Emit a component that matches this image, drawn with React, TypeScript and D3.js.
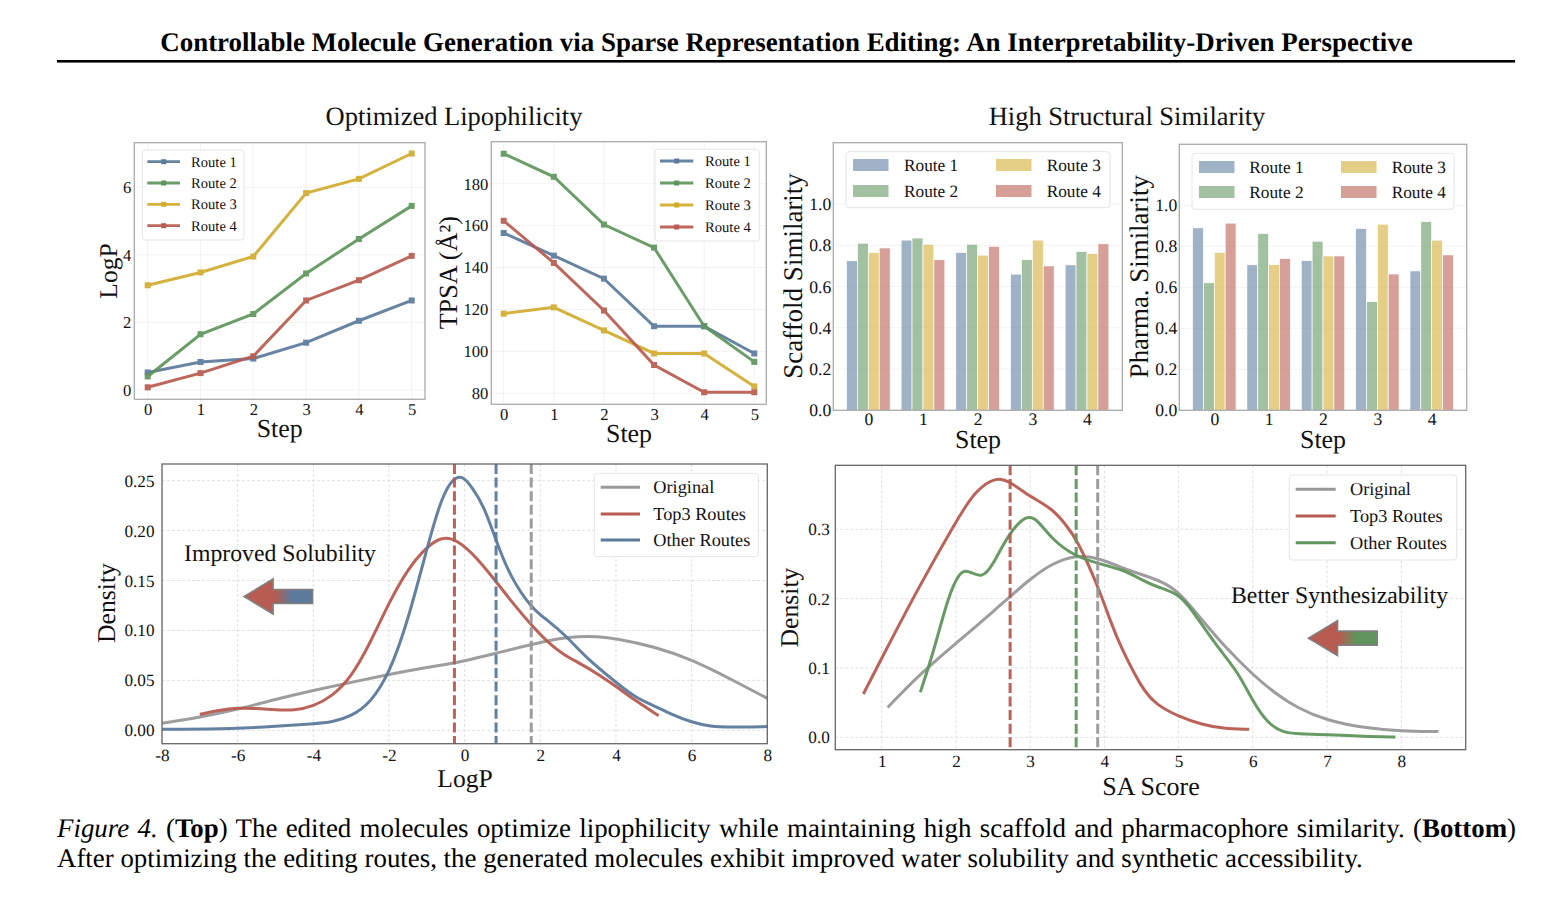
import React, { useEffect, useRef } from 'react';
import * as d3 from 'd3';

// ---- data ----
const routeNames = ['Route 1', 'Route 2', 'Route 3', 'Route 4'];
const lineSteps = [0, 1, 2, 3, 4, 5];
const barSteps = [0, 1, 2, 3, 4];

const logpRoutes = [
  [0.52, 0.83, 0.93, 1.4, 2.05, 2.65],
  [0.4, 1.65, 2.25, 3.45, 4.47, 5.45],
  [3.1, 3.48, 3.95, 5.83, 6.25, 7.0],
  [0.08, 0.5, 1.0, 2.65, 3.25, 3.97],
];
const tpsaRoutes = [
  [156.5, 145.7, 134.7, 112, 112, 99],
  [194.3, 183.3, 160.5, 149.5, 112, 95],
  [118, 121, 110, 99, 99, 83.3],
  [162.3, 142.2, 119.5, 93.5, 80.5, 80.5],
];
const scaffoldRoutes = [
  [0.725, 0.825, 0.765, 0.66, 0.705],
  [0.81, 0.835, 0.805, 0.73, 0.77],
  [0.765, 0.805, 0.752, 0.825, 0.76],
  [0.787, 0.73, 0.795, 0.7, 0.807],
];
const pharmaRoutes = [
  [0.89, 0.71, 0.73, 0.887, 0.68],
  [0.622, 0.862, 0.825, 0.53, 0.92],
  [0.77, 0.71, 0.753, 0.908, 0.83],
  [0.913, 0.74, 0.753, 0.665, 0.758],
];

const logpOriginal: [number, number][] = [
  [-8, 0.007], [-7, 0.013], [-6, 0.021], [-5, 0.031], [-4, 0.04], [-3, 0.048], [-2, 0.056], [-1, 0.063],
  [0, 0.069], [1, 0.079], [2, 0.088], [2.5, 0.092], [3, 0.094], [3.5, 0.094], [4, 0.092], [5, 0.084],
  [6, 0.071], [7, 0.052], [8, 0.032],
];
const logpTop3: [number, number][] = [
  [-7, 0.016], [-6.5, 0.02], [-6, 0.0225], [-5.5, 0.022], [-5, 0.0205], [-4.5, 0.0198], [-4, 0.024],
  [-3.5, 0.034], [-3, 0.053], [-2.5, 0.087], [-2, 0.128], [-1.5, 0.162], [-1, 0.184], [-0.6, 0.194],
  [-0.2, 0.191], [0.3, 0.174], [0.83, 0.149], [1.3, 0.126], [1.77, 0.105], [2.2, 0.088], [2.6, 0.076],
  [3, 0.068], [3.5, 0.057], [4, 0.044], [4.5, 0.03], [5.13, 0.0145],
];
const logpOther: [number, number][] = [
  [-8, 0.001], [-6, 0.0015], [-5, 0.004], [-4, 0.0065], [-3.5, 0.008], [-3, 0.014], [-2.5, 0.027], [-2, 0.056],
  [-1.5, 0.109], [-0.93, 0.192], [-0.6, 0.234], [-0.3, 0.253], [-0.05, 0.255], [0.2, 0.243], [0.5, 0.2256],
  [0.83, 0.19], [1.2, 0.154], [1.77, 0.122], [2.2, 0.11], [2.7, 0.094], [3.2, 0.073], [4, 0.048], [4.5, 0.033],
  [5, 0.0247], [5.5, 0.0154], [6, 0.008], [6.5, 0.0037], [7, 0.003], [8, 0.0037],
];
const logpMeans = [1.76, -0.27, 0.83];

const saOriginal: [number, number][] = [
  [1.08, 0.043], [1.5, 0.09], [2, 0.1356], [2.5, 0.181], [3, 0.229], [3.3, 0.251], [3.6, 0.2625], [3.9, 0.26],
  [4.27, 0.243], [4.5, 0.235], [4.8, 0.2235], [5, 0.21], [5.3, 0.1716], [5.6, 0.133], [6, 0.09], [6.3, 0.0635],
  [6.6, 0.042], [7, 0.024], [7.5, 0.0135], [8, 0.0087], [8.5, 0.0082],
];
const saTop3: [number, number][] = [
  [0.753, 0.0625], [1, 0.114], [1.5, 0.217], [2, 0.311], [2.25, 0.355], [2.55, 0.377], [2.75, 0.367], [3, 0.347],
  [3.3, 0.33], [3.5, 0.304], [3.63, 0.285], [3.9, 0.222], [4.1, 0.162], [4.21, 0.133], [4.5, 0.0707], [4.7, 0.0466],
  [5, 0.03], [5.3, 0.0188], [5.6, 0.0125], [5.95, 0.0115],
];
const saOther: [number, number][] = [
  [1.52, 0.065], [1.7, 0.1235], [1.9, 0.205], [2.05, 0.238], [2.15, 0.242], [2.35, 0.228], [2.5, 0.2486], [2.7, 0.292],
  [2.95, 0.322], [3.1, 0.314], [3.3, 0.2846], [3.6, 0.2615], [3.9, 0.251], [4.27, 0.2413], [4.5, 0.227], [4.7, 0.217],
  [5, 0.2077], [5.2, 0.181], [5.5, 0.133], [5.8, 0.0947], [6, 0.0514], [6.2, 0.02], [6.4, 0.0072], [6.6, 0.0048],
  [7, 0.0043], [7.5, 0.001], [7.92, 0.0005],
];
const saMeans = [3.91, 2.73, 3.62];

const densityNames = ['Original', 'Top3 Routes', 'Other Routes'];

// ---- styling ----
const SERIF = '"Liberation Serif", "Times New Roman", serif';
const BLUE = '#5c7a9c';
const GREEN = '#5f955c';
const YELLOW = '#d2ab2d';
const RED = '#b85b50';
const GRAY = '#989898';
const routeColors = [BLUE, GREEN, YELLOW, RED];

type Sel = d3.Selection<any, unknown, null, undefined>;
interface Frame { l: number; r: number; t: number; b: number }

function text(g: Sel, s: string, x: number, y: number, size: number, anchor = 'middle', rotate = false) {
  const t = g.append('text')
    .attr('font-family', SERIF)
    .attr('font-size', size)
    .attr('fill', '#111')
    .attr('text-anchor', anchor)
    .text(s);
  if (rotate) t.attr('transform', `translate(${x},${y}) rotate(-90)`);
  else t.attr('x', x).attr('y', y);
  return t;
}

// ticks and grid for one panel
function drawAxes(g: Sel, f: Frame, x: any, y: any, xTicks: number[], yTicks: number[], opts: {
  size: number; grid: string; dash?: string; xPad: number; yPad: number; yFormat?: (d: any) => string; xGrid?: boolean;
}) {
  g.append('rect').attr('x', f.l).attr('y', f.t).attr('width', f.r - f.l).attr('height', f.b - f.t).attr('fill', '#fff');

  const grid = g.append('g').attr('stroke', opts.grid).attr('stroke-width', 0.8).attr('stroke-dasharray', opts.dash || null);
  if (opts.xGrid !== false) {
    grid.selectAll('.gx').data(xTicks).enter().append('line')
      .attr('x1', d => x(d)).attr('x2', d => x(d)).attr('y1', f.t).attr('y2', f.b);
  }
  grid.selectAll('.gy').data(yTicks).enter().append('line')
    .attr('y1', d => y(d)).attr('y2', d => y(d)).attr('x1', f.l).attr('x2', f.r);

  const xAxis = d3.axisBottom(x).tickValues(xTicks).tickSize(0).tickPadding(opts.xPad).tickFormat((d: any) => String(d));
  const yAxis = d3.axisLeft(y).tickValues(yTicks).tickSize(0).tickPadding(opts.yPad).tickFormat(opts.yFormat || ((d: any) => String(d)));

  const gx = g.append('g').attr('class', 'x-axis').attr('transform', `translate(0,${f.b})`).call(xAxis);
  const gy = g.append('g').attr('class', 'y-axis').attr('transform', `translate(${f.l},0)`).call(yAxis);
  [gx, gy].forEach(a => {
    a.select('.domain').remove();
    a.selectAll('text').attr('font-family', SERIF).attr('font-size', opts.size).attr('fill', '#111');
  });
}

function drawFrame(g: Sel, f: Frame, color: string, width = 1.3) {
  g.append('rect').attr('x', f.l).attr('y', f.t).attr('width', f.r - f.l).attr('height', f.b - f.t)
    .attr('fill', 'none').attr('stroke', color).attr('stroke-width', width);
}

function legendBox(g: Sel, x0: number, y0: number, x1: number, y1: number) {
  g.append('rect').attr('x', x0).attr('y', y0).attr('width', x1 - x0).attr('height', y1 - y0).attr('rx', 3)
    .attr('fill', '#fff').attr('fill-opacity', 0.85).attr('stroke', '#e2e2e2').attr('stroke-width', 0.9);
}

function drawLinePanel(g: Sel, f: Frame, xr: [number, number], ya: [number, number], yr: [number, number], series: number[][], yTicks: number[], leg: { box: number[]; lx: number[]; tx: number; rows: number[] }) {
  const x = d3.scaleLinear().domain([0, 5]).range(xr);
  const y = d3.scaleLinear().domain(ya).range(yr);
  drawAxes(g, f, x, y, lineSteps, yTicks, { size: 16.6, grid: '#efefef', xPad: 3.5, yPad: 3 });
  drawFrame(g, f, '#ababab');

  const line = d3.line<number>().x((_, i) => x(lineSteps[i])).y(d => y(d));
  series.forEach((vals, k) => {
    const s = g.append('g').attr('opacity', 0.92);
    s.append('path').attr('d', line(vals)).attr('fill', 'none').attr('stroke', routeColors[k]).attr('stroke-width', 3);
    s.selectAll('rect').data(vals).enter().append('rect')
      .attr('x', (_, i) => x(lineSteps[i]) - 3).attr('y', d => y(d) - 3).attr('width', 6).attr('height', 6)
      .attr('fill', routeColors[k]);
  });

  legendBox(g, leg.box[0], leg.box[1], leg.box[2], leg.box[3]);
  routeNames.forEach((name, k) => {
    const ry = leg.rows[k];
    g.append('line').attr('x1', leg.lx[0]).attr('x2', leg.lx[1]).attr('y1', ry).attr('y2', ry)
      .attr('stroke', routeColors[k]).attr('stroke-width', 2.8).attr('opacity', 0.92);
    g.append('rect').attr('x', (leg.lx[0] + leg.lx[1]) / 2 - 2.5).attr('y', ry - 2.5).attr('width', 5).attr('height', 5)
      .attr('fill', routeColors[k]);
    text(g, name, leg.tx, ry + 4.8, 14.6, 'start');
  });
}

function drawBarPanel(g: Sel, f: Frame, xr: [number, number], y10: number, series: number[][], leg: { box: number[]; sw: number[]; tx: number[]; rows: number[] }) {
  const x = d3.scaleLinear().domain([0, 4]).range(xr);
  const y = d3.scaleLinear().domain([0, 1]).range([f.b, y10]);
  const yTicks = [0, 0.2, 0.4, 0.6, 0.8, 1.0];
  drawAxes(g, f, x, y, barSteps, yTicks, { size: 17.6, grid: '#f0f0f0', xPad: 2.5, yPad: 2, yFormat: d3.format('.1f'), xGrid: false });

  const barW = 0.2;
  series.forEach((vals, k) => {
    g.append('g').selectAll('rect').data(vals).enter().append('rect')
      .attr('x', (_, i) => x(barSteps[i] + (k - 2) * barW))
      .attr('y', d => y(d))
      .attr('width', x(barW) - x(0))
      .attr('height', d => y(0) - y(d))
      .attr('fill', routeColors[k]).attr('fill-opacity', 0.58)
      .attr('stroke', '#fff').attr('stroke-width', 0.7);
  });
  drawFrame(g, f, '#ababab');

  legendBox(g, leg.box[0], leg.box[1], leg.box[2], leg.box[3]);
  routeNames.forEach((name, k) => {
    const col = k < 2 ? 0 : 1;
    const ry = leg.rows[k % 2];
    g.append('rect').attr('x', leg.sw[col]).attr('y', ry - 6).attr('width', 35.5).attr('height', 12)
      .attr('fill', routeColors[k]).attr('fill-opacity', 0.58);
    text(g, name, leg.tx[col], ry + 5.6, 17.3, 'start');
  });
}

function drawDensityPanel(g: Sel, f: Frame, xa: [number, number], xr: [number, number], ya: [number, number], yr: [number, number], xTicks: number[], yTicks: number[], yFmt: string, yPad: number,
  curves: [number, number][][], means: number[], colors: string[], arrow: { tip: number; tail: number; y: number; id: string; color: string }, leg: { box: number[]; lx: number[]; tx: number; rows: number[] }) {
  const x = d3.scaleLinear().domain(xa).range(xr);
  const y = d3.scaleLinear().domain(ya).range(yr);
  drawAxes(g, f, x, y, xTicks, yTicks, { size: 17.2, grid: '#d9d9d9', dash: '3,2', xPad: 5.5, yPad, yFormat: d3.format(yFmt) });

  const line = d3.line<[number, number]>().x(d => x(d[0])).y(d => y(d[1])).curve(d3.curveBasis);
  curves.forEach((c, k) => {
    g.append('path').attr('d', line(c)).attr('fill', 'none').attr('stroke', colors[k]).attr('stroke-width', 3).attr('opacity', 0.95);
  });
  means.forEach((m, k) => {
    g.append('line').attr('x1', x(m)).attr('x2', x(m)).attr('y1', f.t).attr('y2', f.b)
      .attr('stroke', colors[k]).attr('stroke-width', 3).attr('stroke-dasharray', '10,3.6').attr('opacity', 0.95);
  });
  drawFrame(g, f, '#666');

  // arrow, placed in data coordinates; head and shaft sizes in px
  const tipX = x(arrow.tip);
  const tailX = x(arrow.tail);
  const cy = y(arrow.y);
  const headX = tipX + 29;
  const defs = g.append('defs');
  const grad = defs.append('linearGradient').attr('id', arrow.id).attr('gradientUnits', 'userSpaceOnUse')
    .attr('x1', tipX).attr('x2', tailX).attr('y1', cy).attr('y2', cy);
  grad.append('stop').attr('offset', '0.44').attr('stop-color', RED);
  grad.append('stop').attr('offset', '0.7').attr('stop-color', arrow.color);
  const arrowPath = d3.path();
  arrowPath.moveTo(tipX, cy);
  arrowPath.lineTo(headX, cy - 17.5);
  arrowPath.lineTo(headX, cy - 7);
  arrowPath.lineTo(tailX, cy - 7);
  arrowPath.lineTo(tailX, cy + 7);
  arrowPath.lineTo(headX, cy + 7);
  arrowPath.lineTo(headX, cy + 17.5);
  arrowPath.closePath();
  g.append('path').attr('d', arrowPath.toString()).attr('fill', `url(#${arrow.id})`).attr('stroke', '#808080').attr('stroke-width', 1.6);

  legendBox(g, leg.box[0], leg.box[1], leg.box[2], leg.box[3]);
  densityNames.forEach((name, k) => {
    const ry = leg.rows[k];
    g.append('line').attr('x1', leg.lx[0]).attr('x2', leg.lx[1]).attr('y1', ry).attr('y2', ry)
      .attr('stroke', colors[k]).attr('stroke-width', 2.9);
    text(g, name, leg.tx, ry + 6, 18.3, 'start');
  });
}

const App: React.FC = () => {
  const svgRef = useRef<SVGSVGElement | null>(null);

  useEffect(() => {
    if (!svgRef.current) return;
    const svg = d3.select(svgRef.current);
    svg.selectAll('*').remove();
    const g: Sel = svg.append('g');

    // header
    text(g, 'Controllable Molecule Generation via Sparse Representation Editing: An Interpretability-Driven Perspective', 786.5, 51, 26.93)
      .attr('font-weight', 'bold').attr('fill', '#000');
    g.append('rect').attr('x', 57).attr('y', 60).attr('width', 1458).attr('height', 2.6).attr('fill', '#000');
    text(g, 'Optimized Lipophilicity', 454, 125, 26.5);
    text(g, 'High Structural Similarity', 1127, 125, 26.5);

    // top row: lines
    drawLinePanel(g, { l: 134.3, r: 425, t: 142.7, b: 399.3 }, [147.7, 411.7], [0, 6], [390, 187.3], logpRoutes, [0, 2, 4, 6],
      { box: [142.3, 150, 244, 240], lx: [147.3, 180], tx: 191, rows: [161.7, 183, 204.3, 225.7] });
    text(g, 'LogP', 117, 271, 25.6, 'middle', true);
    text(g, 'Step', 279.7, 437, 25.9);

    drawLinePanel(g, { l: 491.3, r: 766.3, t: 141.7, b: 404.3 }, [503.7, 754.3], [80, 180], [393.3, 183.7], tpsaRoutes, [80, 100, 120, 140, 160, 180],
      { box: [655, 149.3, 759.3, 241], lx: [660, 693.3], tx: 705, rows: [161, 183, 205, 227] });
    text(g, 'TPSA (Å²)', 456.7, 272.7, 26.2, 'middle', true);
    text(g, 'Step', 629, 441.7, 25.9);

    // top row: bars
    drawBarPanel(g, { l: 833.3, r: 1122.3, t: 142.7, b: 410.3 }, [868.3, 1087], 204, scaffoldRoutes,
      { box: [846, 151.7, 1110, 207.7], sw: [853, 996], tx: [904, 1046.7], rows: [165, 191] });
    text(g, 'Scaffold Similarity', 801.7, 276, 27, 'middle', true);
    text(g, 'Step', 978, 448, 25.9);

    drawBarPanel(g, { l: 1179.3, r: 1466.7, t: 144.3, b: 410.3 }, [1214.3, 1431.7], 205.3, pharmaRoutes,
      { box: [1192, 153.3, 1454, 209.3], sw: [1199, 1341], tx: [1249.3, 1391.7], rows: [167, 192] });
    text(g, 'Pharma. Similarity', 1147.7, 276.7, 26.9, 'middle', true);
    text(g, 'Step', 1323, 448, 25.9);

    // bottom row: densities
    drawDensityPanel(g, { l: 162, r: 767.3, t: 464, b: 743.7 }, [-8, 8], [162, 767.3], [0, 0.25], [730.3, 480.7],
      [-8, -6, -4, -2, 0, 2, 4, 6, 8], [0, 0.05, 0.1, 0.15, 0.2, 0.25], '.2f', 7.5,
      [logpOriginal, logpTop3, logpOther], logpMeans, [GRAY, RED, BLUE],
      { tip: -5.83, tail: -4.02, y: 0.134, id: 'arrowLogp', color: BLUE },
      { box: [594.3, 473.3, 758.3, 556.7], lx: [600.7, 640], tx: 653.3, rows: [487.3, 514, 540] });
    text(g, 'Density', 115, 603, 25.7, 'middle', true);
    text(g, 'LogP', 465, 786.7, 25.6);
    text(g, 'Improved Solubility', 184, 561, 23.75, 'start');

    drawDensityPanel(g, { l: 835.3, r: 1465.7, t: 465.3, b: 749.7 }, [1, 8], [881.7, 1401.3], [0, 0.3], [737.3, 529.3],
      [1, 2, 3, 4, 5, 6, 7, 8], [0, 0.1, 0.2, 0.3], '.1f', 5.5,
      [saOriginal, saTop3, saOther], saMeans, [GRAY, RED, GREEN],
      { tip: 6.75, tail: 7.675, y: 0.143, id: 'arrowSa', color: GREEN },
      { box: [1289.3, 475, 1456.7, 560], lx: [1295.7, 1335.7], tx: 1350, rows: [489.3, 516, 542.7] });
    text(g, 'Density', 798.3, 607.5, 25.7, 'middle', true);
    text(g, 'SA Score', 1151, 794.7, 26);
    text(g, 'Better Synthesizability', 1231, 603, 23.75, 'start');

    // caption, first line is justified in the original
    const cap = g.append('text').attr('font-family', SERIF).attr('font-size', 26.88).attr('word-spacing', 1.6).attr('fill', '#000').attr('x', 57).attr('y', 837);
    cap.append('tspan').attr('font-style', 'italic').text('Figure 4.');
    cap.append('tspan').text(' (');
    cap.append('tspan').attr('font-weight', 'bold').text('Top');
    cap.append('tspan').text(') The edited molecules optimize lipophilicity while maintaining high scaffold and pharmacophore similarity. (');
    cap.append('tspan').attr('font-weight', 'bold').text('Bottom');
    cap.append('tspan').text(')');
    text(g, 'After optimizing the editing routes, the generated molecules exhibit improved water solubility and synthetic accessibility.', 57, 867, 26.88, 'start')
      .attr('fill', '#000');
  }, []);

  return <svg ref={svgRef} width={1565} height={898} style={{ position: 'absolute', left: 0, top: 0, background: '#fff', textRendering: 'geometricPrecision' }}></svg>;
};

export default App;
